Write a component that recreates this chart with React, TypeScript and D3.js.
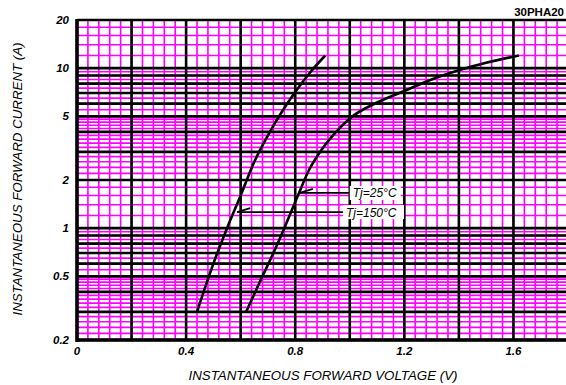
import React from "react";
import * as d3 from "d3";

// forward characteristic (V, A)
const curve150 = [
  [0.44, 0.3], [0.5, 0.6], [0.55, 1.0], [0.6, 1.6], [0.65, 2.6],
  [0.7, 3.8], [0.75, 5.3], [0.8, 7.1], [0.85, 9.2], [0.91, 12],
];
const curve25 = [
  [0.62, 0.3], [0.67, 0.46], [0.72, 0.7], [0.76, 1.0], [0.81, 1.6],
  [0.85, 2.3], [0.9, 3.15], [0.95, 4.0], [1.0, 4.85], [1.1, 6.1],
  [1.2, 7.2], [1.3, 8.5], [1.4, 9.7], [1.5, 10.8], [1.62, 12],
];

const labels = [
  { text: "Tj=25°C", tip: [0.817, 1.66], at: 1.0, w: 51 },
  { text: "Tj=150°C", tip: [0.587, 1.26], at: 0.975, w: 61 },
];

const xTicks = [0, 0.4, 0.8, 1.2, 1.6];
const yTicks = [0.2, 0.5, 1, 2, 5, 10, 20];
const yMajor = [0.2, 0.3, 0.4, 0.5, 0.6, 0.7, 0.8, 0.9, 1, 2, 3, 4, 5, 6, 7, 8, 9, 10, 20];
// minor steps per band: [from, to, step]
const yBands = [
  [0.2, 0.5, 0.02], [0.5, 1, 0.05], [1, 2, 0.2],
  [2, 5, 0.2], [5, 10, 0.5], [10, 20, 2],
];

const W = 566;
const H = 385;

export default function App() {
  const x = d3.scaleLinear().domain([0, 1.8]).range([77, 568]);
  const y = d3.scaleLog().domain([0.2, 20]).range([340, 20]);

  const xMinor = d3.range(0, 1.8001, 0.04);
  const xMajor = d3.range(0, 1.8001, 0.2);
  const yMinor: number[] = [];
  yBands.forEach(([a, b, s]) => {
    for (let v = a; v < b - 1e-9; v += s) yMinor.push(v);
  });

  const line = d3
    .line<number[]>()
    .x((d) => x(d[0]))
    .y((d) => y(d[1]))
    .curve(d3.curveMonotoneX);

  const font = "'Liberation Sans', Arial, sans-serif";

  return (
    <svg width={W} height={H} style={{ position: "absolute", left: 0, top: 0, background: "#fff" }}>
      <g>
        {xMinor.map((v, i) => (
          <line key={"xm" + i} x1={x(v)} x2={x(v)} y1={20} y2={340} stroke="#ff00ff" strokeWidth={1.6} />
        ))}
        {yMinor.map((v, i) => (
          <line key={"ym" + i} x1={77} x2={W} y1={y(v)} y2={y(v)} stroke="#ff00ff" strokeWidth={1.6} />
        ))}
        {xMajor.map((v, i) => (
          <line key={"xM" + i} x1={x(v)} x2={x(v)} y1={19} y2={341} stroke="#000" strokeWidth={2.6} />
        ))}
        {yMajor.map((v, i) => (
          <line key={"yM" + i} x1={77} x2={W} y1={y(v)} y2={y(v)} stroke="#000" strokeWidth={2.6} />
        ))}
        <line x1={77} x2={W} y1={340} y2={340} stroke="#000" strokeWidth={3.5} />
        <line x1={77} x2={77} y1={19} y2={342} stroke="#000" strokeWidth={3.5} />
      </g>

      <path d={line(curve150) || ""} fill="none" stroke="#000" strokeWidth={2.6} />
      <path d={line(curve25) || ""} fill="none" stroke="#000" strokeWidth={2.6} />

      {labels.map((l) => {
        const tx = x(l.tip[0]);
        const ty = y(l.tip[1]);
        const bx = x(l.at);
        return (
          <g key={l.text}>
            <line x1={tx} x2={bx} y1={ty} y2={ty} stroke="#000" strokeWidth={1.8} />
            <line x1={tx} x2={tx + 13} y1={ty} y2={ty - 4} stroke="#000" strokeWidth={1.8} />
            <rect x={bx} y={ty - 7} width={l.w} height={14} fill="#fff" />
            <text x={bx + 3} y={ty + 4.5} fontFamily={font} fontStyle="italic" fontSize={12}>
              {l.text}
            </text>
          </g>
        );
      })}

      {yTicks.map((v) => (
        <text key={"yt" + v} x={69} y={y(v) + 4} textAnchor="end" fontFamily={font}
          fontStyle="italic" fontWeight="bold" fontSize={11.5}>
          {v}
        </text>
      ))}
      {xTicks.map((v) => (
        <text key={"xt" + v} x={x(v)} y={355} textAnchor="middle" fontFamily={font}
          fontStyle="italic" fontWeight="bold" fontSize={11.5}>
          {v}
        </text>
      ))}

      <text x={323} y={380} textAnchor="middle" fontFamily={font} fontStyle="italic" fontSize={13.3}>
        INSTANTANEOUS FORWARD VOLTAGE (V)
      </text>
      <text transform="translate(22,179) rotate(-90)" textAnchor="middle" fontFamily={font}
        fontStyle="italic" fontSize={13.3}>
        INSTANTANEOUS FORWARD CURRENT (A)
      </text>
      <text x={564} y={16} textAnchor="end" fontFamily={font} fontWeight="bold" fontSize={11.5}>
        30PHA20
      </text>
    </svg>
  );
}
